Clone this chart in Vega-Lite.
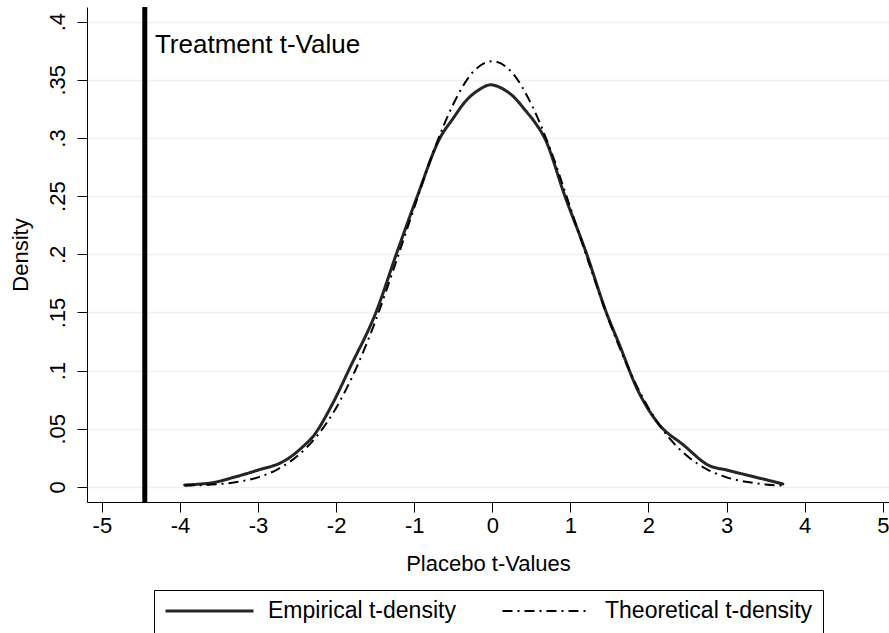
{
  "$schema": "https://vega.github.io/schema/vega-lite/v6.json",
  "width": 802,
  "height": 495,
  "autosize": {"type": "none"},
  "padding": {"left": 87, "top": 7, "right": 0, "bottom": 131},
  "background": "white",
  "config": {
    "view": {"stroke": null},
    "font": "Liberation Sans",
    "axis": {
      "domainColor": "black", "tickColor": "black", "labelColor": "black", "titleColor": "black",
      "titleFontWeight": "normal", "labelFont": "Liberation Sans", "titleFont": "Liberation Sans",
      "domainWidth": 1, "tickWidth": 1, "labelFlush": false, "labelOverlap": false,
      "labelFontSize": 22, "titleFontSize": 22, "tickSize": 10
    },
    "axisX": {"grid": false, "labelPadding": 3, "titlePadding": 17},
    "axisY": {
      "labelAngle": -90, "labelAlign": "center", "labelBaseline": "bottom", "labelPadding": 8,
      "gridColor": "#eaf2f3", "gridWidth": 1.5, "titlePadding": 14
    },
    "legend": {
      "orient": "none", "legendX": 67, "legendY": 583, "direction": "horizontal", "columns": 2,
      "symbolType": "stroke", "symbolSize": 7744, "clipHeight": 22,
      "labelFontSize": 23, "labelFont": "Liberation Sans", "labelColor": "black",
      "labelOffset": 13, "columnPadding": 45, "padding": 10,
      "strokeColor": "black", "fillColor": "white", "labelLimit": 400
    }
  },
  "datasets": {
    "curves": [
      {"x": -3.94, "y": 0.0017, "series": "Empirical t-density"},
      {"x": -3.75, "y": 0.0025, "series": "Empirical t-density"},
      {"x": -3.58, "y": 0.0037, "series": "Empirical t-density"},
      {"x": -3.3, "y": 0.0085, "series": "Empirical t-density"},
      {"x": -3.0, "y": 0.0145, "series": "Empirical t-density"},
      {"x": -2.68, "y": 0.0218, "series": "Empirical t-density"},
      {"x": -2.55, "y": 0.0275, "series": "Empirical t-density"},
      {"x": -2.42, "y": 0.035, "series": "Empirical t-density"},
      {"x": -2.3, "y": 0.043, "series": "Empirical t-density"},
      {"x": -2.05, "y": 0.071, "series": "Empirical t-density"},
      {"x": -1.82, "y": 0.103, "series": "Empirical t-density"},
      {"x": -1.49, "y": 0.15, "series": "Empirical t-density"},
      {"x": -1.23, "y": 0.2, "series": "Empirical t-density"},
      {"x": -0.96, "y": 0.25, "series": "Empirical t-density"},
      {"x": -0.67, "y": 0.3, "series": "Empirical t-density"},
      {"x": -0.5, "y": 0.317, "series": "Empirical t-density"},
      {"x": -0.35, "y": 0.331, "series": "Empirical t-density"},
      {"x": -0.18, "y": 0.341, "series": "Empirical t-density"},
      {"x": -0.02, "y": 0.3457, "series": "Empirical t-density"},
      {"x": 0.14, "y": 0.342, "series": "Empirical t-density"},
      {"x": 0.28, "y": 0.335, "series": "Empirical t-density"},
      {"x": 0.42, "y": 0.324, "series": "Empirical t-density"},
      {"x": 0.55, "y": 0.313, "series": "Empirical t-density"},
      {"x": 0.67, "y": 0.3, "series": "Empirical t-density"},
      {"x": 0.93, "y": 0.25, "series": "Empirical t-density"},
      {"x": 1.21, "y": 0.2, "series": "Empirical t-density"},
      {"x": 1.46, "y": 0.15, "series": "Empirical t-density"},
      {"x": 1.63, "y": 0.122, "series": "Empirical t-density"},
      {"x": 1.85, "y": 0.085, "series": "Empirical t-density"},
      {"x": 2.12, "y": 0.055, "series": "Empirical t-density"},
      {"x": 2.45, "y": 0.036, "series": "Empirical t-density"},
      {"x": 2.78, "y": 0.0183, "series": "Empirical t-density"},
      {"x": 3.0, "y": 0.0146, "series": "Empirical t-density"},
      {"x": 3.25, "y": 0.0104, "series": "Empirical t-density"},
      {"x": 3.5, "y": 0.0063, "series": "Empirical t-density"},
      {"x": 3.72, "y": 0.0026, "series": "Empirical t-density"},
      {"x": -3.94, "y": 0.0012, "series": "Theoretical t-density"},
      {"x": -3.5, "y": 0.0025, "series": "Theoretical t-density"},
      {"x": -3.25, "y": 0.0045, "series": "Theoretical t-density"},
      {"x": -3.0, "y": 0.0083, "series": "Theoretical t-density"},
      {"x": -2.75, "y": 0.0152, "series": "Theoretical t-density"},
      {"x": -2.5, "y": 0.0264, "series": "Theoretical t-density"},
      {"x": -2.25, "y": 0.0434, "series": "Theoretical t-density"},
      {"x": -2.0, "y": 0.068, "series": "Theoretical t-density"},
      {"x": -1.75, "y": 0.101, "series": "Theoretical t-density"},
      {"x": -1.5, "y": 0.142, "series": "Theoretical t-density"},
      {"x": -1.25, "y": 0.19, "series": "Theoretical t-density"},
      {"x": -1.0, "y": 0.24, "series": "Theoretical t-density"},
      {"x": -0.75, "y": 0.289, "series": "Theoretical t-density"},
      {"x": -0.5, "y": 0.329, "series": "Theoretical t-density"},
      {"x": -0.25, "y": 0.3565, "series": "Theoretical t-density"},
      {"x": 0.0, "y": 0.366, "series": "Theoretical t-density"},
      {"x": 0.25, "y": 0.3565, "series": "Theoretical t-density"},
      {"x": 0.5, "y": 0.329, "series": "Theoretical t-density"},
      {"x": 0.75, "y": 0.289, "series": "Theoretical t-density"},
      {"x": 1.0, "y": 0.24, "series": "Theoretical t-density"},
      {"x": 1.25, "y": 0.19, "series": "Theoretical t-density"},
      {"x": 1.5, "y": 0.142, "series": "Theoretical t-density"},
      {"x": 1.75, "y": 0.101, "series": "Theoretical t-density"},
      {"x": 2.0, "y": 0.068, "series": "Theoretical t-density"},
      {"x": 2.25, "y": 0.0434, "series": "Theoretical t-density"},
      {"x": 2.5, "y": 0.0264, "series": "Theoretical t-density"},
      {"x": 2.75, "y": 0.0152, "series": "Theoretical t-density"},
      {"x": 3.0, "y": 0.0083, "series": "Theoretical t-density"},
      {"x": 3.25, "y": 0.0045, "series": "Theoretical t-density"},
      {"x": 3.5, "y": 0.0022, "series": "Theoretical t-density"},
      {"x": 3.72, "y": 0.0012, "series": "Theoretical t-density"}
    ],
    "treat": [{"x": -4.45, "tx": -4.32, "ty": 0.373, "label": "Treatment t-Value"}]
  },
  "layer": [
    {
      "data": {"name": "curves"},
      "transform": [{"filter": "datum.series == 'Empirical t-density'"}],
      "mark": {"type": "line", "interpolate": "monotone", "strokeCap": "round", "strokeJoin": "round"},
      "encoding": {
        "x": {"field": "x", "type": "quantitative", "title": "Placebo t-Values",
              "scale": {"domain": [-5.19, 5.08], "nice": false, "zero": false},
              "axis": {"values": [-5, -4, -3, -2, -1, 0, 1, 2, 3, 4, 5], "labelExpr": "'' + datum.value"}},
        "y": {"field": "y", "type": "quantitative", "title": "Density",
              "scale": {"domain": [-0.0129, 0.4126], "nice": false, "zero": false},
              "axis": {"values": [0, 0.05, 0.1, 0.15, 0.2, 0.25, 0.3, 0.35, 0.4],
                       "labelExpr": "datum.value == 0 ? '0' : replace(format(datum.value, '.2~f'), '0.', '.')"}},
        "color": {"field": "series", "type": "nominal", "legend": {"title": null},
                  "scale": {"domain": ["Empirical t-density", "Theoretical t-density"], "range": ["#262626", "#000000"]}},
        "strokeDash": {"field": "series", "type": "nominal", "legend": {"title": null},
                  "scale": {"domain": ["Empirical t-density", "Theoretical t-density"], "range": [[1, 0], [10, 5, 2, 5]]}},
        "strokeWidth": {"field": "series", "type": "nominal", "legend": {"title": null},
                  "scale": {"domain": ["Empirical t-density", "Theoretical t-density"], "range": [3, 2]}}
      }
    },
    {
      "data": {"name": "curves"},
      "transform": [{"filter": "datum.series == 'Theoretical t-density'"}],
      "mark": {"type": "line", "interpolate": "monotone"},
      "encoding": {
        "x": {"field": "x", "type": "quantitative"},
        "y": {"field": "y", "type": "quantitative"},
        "color": {"field": "series", "type": "nominal", "legend": {"title": null}},
        "strokeDash": {"field": "series", "type": "nominal", "legend": {"title": null}},
        "strokeWidth": {"field": "series", "type": "nominal", "legend": {"title": null}}
      }
    },
    {
      "data": {"name": "treat"},
      "mark": {"type": "rule", "color": "black", "strokeWidth": 5},
      "encoding": {"x": {"field": "x", "type": "quantitative"}}
    },
    {
      "data": {"name": "treat"},
      "mark": {"type": "text", "align": "left", "baseline": "alphabetic", "fontSize": 26, "font": "Liberation Sans", "color": "black"},
      "encoding": {
        "x": {"field": "tx", "type": "quantitative"},
        "y": {"field": "ty", "type": "quantitative"},
        "text": {"field": "label"}
      }
    }
  ]
}
